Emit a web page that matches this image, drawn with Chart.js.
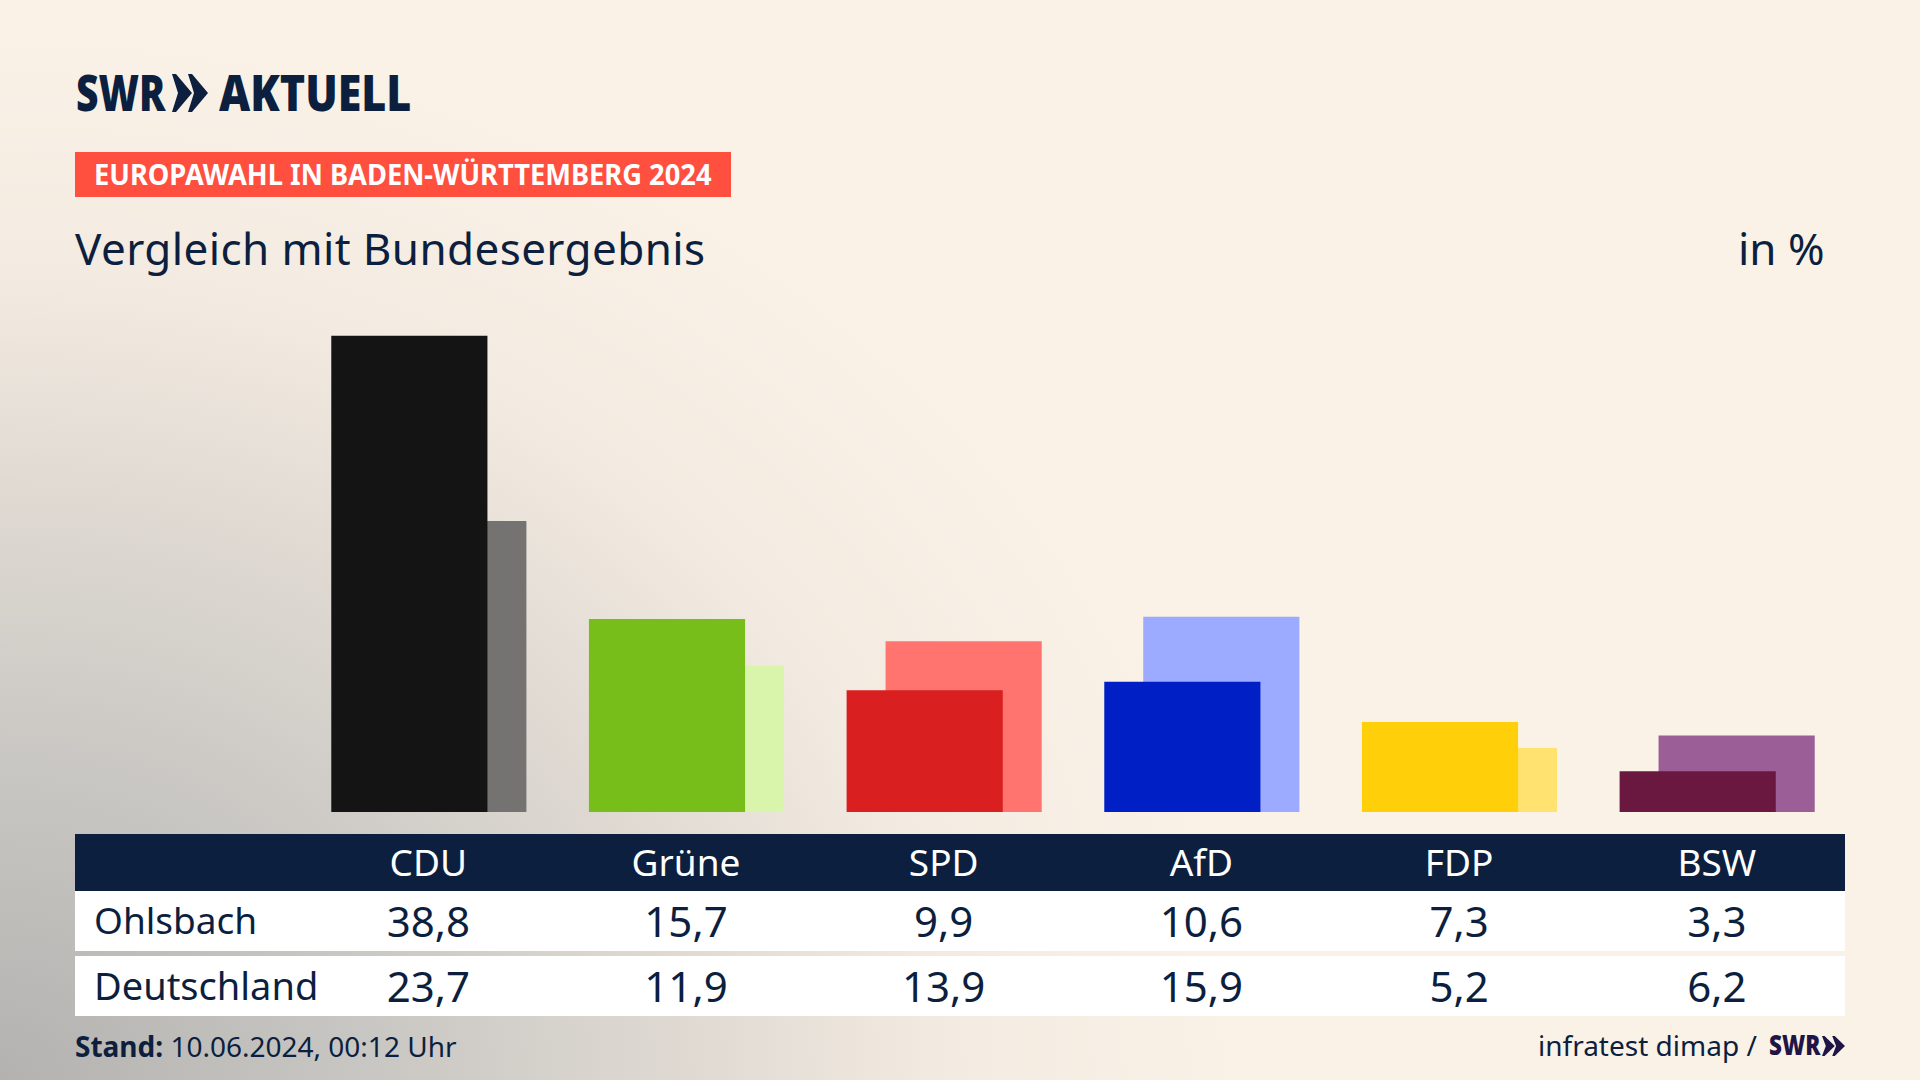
<!DOCTYPE html>
<html lang="de">
<head>
<meta charset="utf-8">
<title>Vergleich mit Bundesergebnis</title>
<script src="https://cdn.jsdelivr.net/npm/chart.js@4"></script>
<style>
html, body { margin: 0; padding: 0; }
body {
    width: 1920px; height: 1080px; overflow: hidden; position: relative;
    font-family: "Noto Sans", sans-serif; color: #0c1f3f;
    background: #faf2e7;
    background-image: radial-gradient(ellipse 1250px 1060px at 0 100%, #b3b2b0 0%, #c9c7c3 30%, #dfd9d2 55%, #f3ebe1 76%, #faf2e7 100%);
}
.t { position: absolute; white-space: nowrap; transform-origin: left center; }
.band { position: absolute; left: 75px; width: 1770px; }
.c { position: absolute; width: 220px; text-align: center; white-space: nowrap; }
#chart { position: absolute; left: 300px; top: 260px; }
</style>
</head>
<body>
<div class="t" style="left:76px;top:58px;font-size:50px;font-weight:900;transform:scaleX(.78)">SWR</div>
<svg style="position:absolute;left:172px;top:74px" width="36" height="38" viewBox="0 0 36 38">
  <polygon fill="#0c1f3f" points="0,0 4,0 20,19 4,38 0,38 6,19"/>
  <polygon fill="#0c1f3f" points="16,0 20,0 36,19 20,38 16,38 22,19"/>
</svg>
<div class="t" style="left:219px;top:58px;font-size:50px;font-weight:900;transform:scaleX(.86)">AKTUELL</div>

<div style="position:absolute;left:75px;top:152px;width:656px;height:45px;background:#ff4f3f"></div>
<div class="t" style="left:94px;top:155px;font-size:28px;font-weight:700;color:#fff;transform:scaleX(.974)">EUROPAWAHL IN BADEN-WÜRTTEMBERG 2024</div>

<div class="t" style="left:75px;top:218px;font-size:44px;letter-spacing:.4px">Vergleich mit Bundesergebnis</div>
<div class="t" style="left:1738px;top:218px;font-size:44px">in %</div>

<canvas id="chart" width="1546" height="552"></canvas>

<div class="band" style="top:834px;height:57px;background:#0c1f3f"></div>
<div class="band" style="top:891px;height:60px;background:#fff"></div>
<div class="band" style="top:956px;height:60px;background:#fff"></div>
<div id="cells"></div>

<div class="t" style="left:75px;top:1027px;font-size:28px"><b>Stand:</b> 10.06.2024, 00:12 Uhr</div>
<div class="t" style="left:1538px;top:1026px;font-size:28px">infratest dimap /</div>
<div class="t" style="left:1769px;top:1025px;font-size:28px;font-weight:900;color:#1f1547;transform:scaleX(.8)">SWR</div>
<svg style="position:absolute;left:1822px;top:1036px" width="23" height="20" viewBox="0 0 36 38" preserveAspectRatio="none">
  <polygon fill="#1f1547" points="0,0 4,0 20,19 4,38 0,38 6,19"/>
  <polygon fill="#1f1547" points="16,0 20,0 36,19 20,38 16,38 22,19"/>
</svg>

<script>
var parties = ['CDU', 'Grüne', 'SPD', 'AfD', 'FDP', 'BSW'];
var ohlsbach = [38.8, 15.7, 9.9, 10.6, 7.3, 3.3];
var deutschland = [23.7, 11.9, 13.9, 15.9, 5.2, 6.2];
var frontColors = ['#141414', '#78be1a', '#d91f1f', '#0020c6', '#ffcf0a', '#6a183f'];
var backColors = ['#747371', '#d8f5ab', '#ff746e', '#9cabff', '#ffe270', '#9c5e96'];

// spaltenmitte der tabelle, gleiche teilung wie die balken
var colStart = 428.3;
var colStep = 257.7;
var shift = 0.0756;

function points(values, dx) {
    return values.map(function (v, i) { return { x: i + dx, y: v }; });
}

new Chart(document.getElementById('chart').getContext('2d'), {
    type: 'bar',
    data: {
        datasets: [
            { label: 'Ohlsbach', data: points(ohlsbach, -shift), backgroundColor: frontColors, barThickness: 155.5, grouped: false, order: 1 },
            { label: 'Deutschland', data: points(deutschland, shift), backgroundColor: backColors, barThickness: 155.5, grouped: false, order: 2 }
        ]
    },
    options: {
        responsive: false,
        animation: false,
        layout: { padding: 0 },
        plugins: { legend: { display: false }, tooltip: { enabled: false } },
        scales: {
            x: { type: 'linear', min: -0.5, max: 5.5, offset: false, display: false },
            y: { min: 0, max: 45, display: false }
        }
    }
});

var cells = document.getElementById('cells');

function addCell(text, left, top, size, color, cls) {
    var d = document.createElement('div');
    d.className = cls;
    d.textContent = text;
    d.style.left = left + 'px';
    d.style.top = top + 'px';
    d.style.fontSize = size + 'px';
    d.style.color = color;
    cells.appendChild(d);
}

function fmt(v) {
    return v.toFixed(1).replace('.', ',');
}

addCell('Ohlsbach', 94, 894, 37, '#0c1f3f', 't');
addCell('Deutschland', 94, 959, 38, '#0c1f3f', 't');
parties.forEach(function (p, i) {
    var left = colStart + i * colStep - 110;
    addCell(p, left, 836, 37, '#fff', 'c');
    addCell(fmt(ohlsbach[i]), left, 892, 42, '#0c1f3f', 'c');
    addCell(fmt(deutschland[i]), left, 957, 42, '#0c1f3f', 'c');
});
</script>
</body>
</html>
